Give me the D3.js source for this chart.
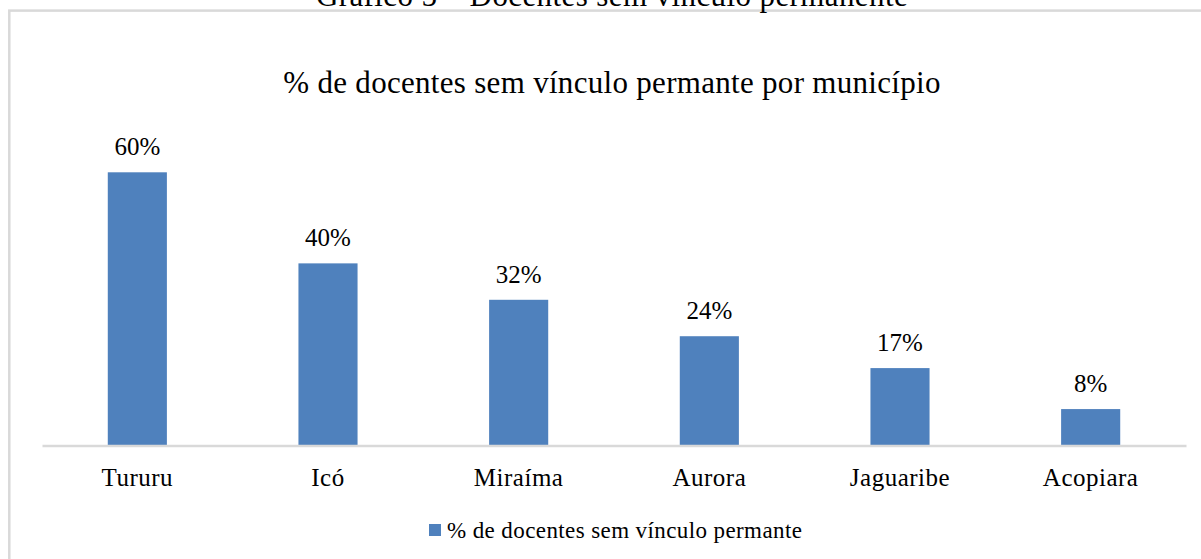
<!DOCTYPE html>
<html>
<head>
<meta charset="utf-8">
<script src="https://cdn.jsdelivr.net/npm/d3@7"></script>
<style>
  html, body { margin: 0; padding: 0; background: #fff; }
  svg { display: block; font-family: "Liberation Serif", "Times New Roman", serif; }
</style>
</head>
<body>
<div id="holder"></div>
<script>
const municipios = ["Tururu", "Icó", "Miraíma", "Aurora", "Jaguaribe", "Acopiara"];
const percentuais = [60, 40, 32, 24, 17, 8];
const serieNome = "% de docentes sem vínculo permante";
const titulo = "% de docentes sem vínculo permante por município";
const legenda = "Gráfico 5 – Docentes sem vínculo permanente";

const width = 1201;
const height = 559;
const baseY = 445.5;
const left = 42;
const right = 1186;

const svg = d3.select("#holder")
    .append("svg")
    .attr("width", width)
    .attr("height", height);

// moldura do gráfico
svg.append("rect")
    .attr("x", 9.3)
    .attr("y", 10.6)
    .attr("width", width + 20)
    .attr("height", height)
    .attr("fill", "none")
    .attr("stroke", "#d9d9d9")
    .attr("stroke-width", 2.5);

// legenda cortada no topo
svg.append("text")
    .attr("x", 612)
    .attr("y", 5.5)
    .attr("text-anchor", "middle")
    .style("font-size", "31px")
    .style("letter-spacing", "0.4px")
    .attr("fill", "#000")
    .text(legenda);

svg.append("text")
    .attr("x", 612)
    .attr("y", 93)
    .attr("text-anchor", "middle")
    .style("font-size", "31px")
    .style("letter-spacing", "0.3px")
    .attr("fill", "#000")
    .text(titulo);

const xScale = d3.scaleBand()
    .domain(municipios)
    .range([left, right])
    .paddingInner(0.69)
    .paddingOuter(0.345);

const yScale = d3.scaleLinear()
    .domain([0, 60])
    .range([baseY, 172.3]);

const dados = municipios.map((m, i) => ({ municipio: m, valor: percentuais[i] }));

svg.selectAll("rect.bar")
    .data(dados)
    .enter()
    .append("rect")
    .attr("class", "bar")
    .attr("x", (d) => xScale(d.municipio))
    .attr("y", (d) => yScale(d.valor))
    .attr("width", xScale.bandwidth())
    .attr("height", (d) => baseY - yScale(d.valor))
    .attr("fill", "#4f81bd");

svg.selectAll("text.rotulo")
    .data(dados)
    .enter()
    .append("text")
    .attr("class", "rotulo")
    .attr("x", (d) => xScale(d.municipio) + xScale.bandwidth() / 2)
    .attr("y", (d) => yScale(d.valor) - 17)
    .attr("text-anchor", "middle")
    .style("font-size", "25px")
    .attr("fill", "#000")
    .text((d) => d.valor + "%");

// eixo x
const xAxis = d3.axisBottom(xScale).tickSize(0).tickPadding(22);
const gx = svg.append("g")
    .attr("transform", `translate(0, ${baseY})`)
    .call(xAxis);
gx.select(".domain").attr("stroke", "#d9d9d9").attr("stroke-width", 2.5);
gx.selectAll("text")
    .style("font-size", "25px")
    .style("letter-spacing", "0.5px")
    .style("font-family", "Liberation Serif, Times New Roman, serif")
    .attr("dy", "0")
    .attr("y", 40.5)
    .attr("fill", "#000");

// legenda da série
const leg = svg.append("g").attr("transform", "translate(429, 524)");
leg.append("rect")
    .attr("width", 12)
    .attr("height", 12)
    .attr("fill", "#4f81bd");
leg.append("text")
    .attr("x", 18)
    .attr("y", 13.7)
    .style("font-size", "23px")
    .style("letter-spacing", "0.4px")
    .attr("fill", "#000")
    .text(serieNome);
</script>
</body>
</html>
